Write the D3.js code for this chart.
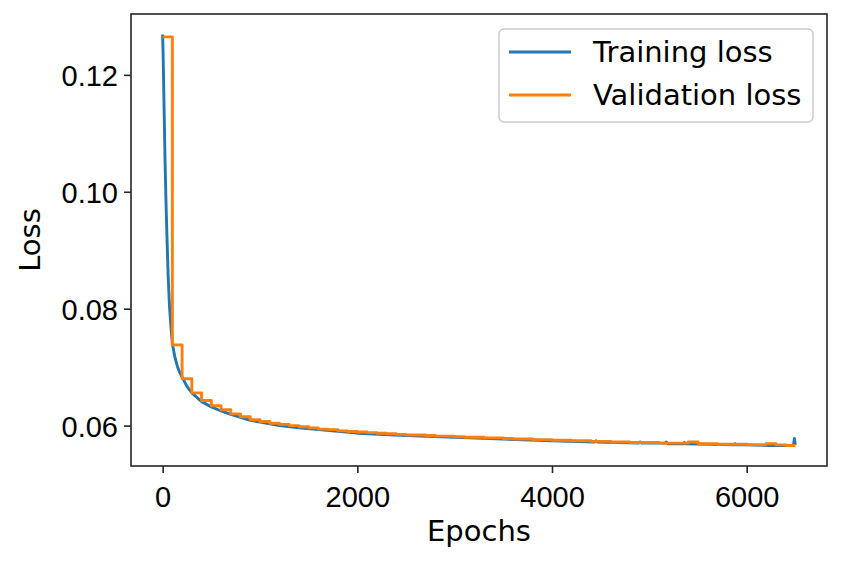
<!DOCTYPE html>
<meta charset="utf-8">
<style>
body { margin: 0; background: #fff; }
svg { font-family: "DejaVu Sans", sans-serif; }
.tick text { font-size: 29px; fill: #000; }
.tick line { stroke: #262626; stroke-width: 1.6; }
</style>
<body>
<svg width="843" height="561"></svg>
<script src="https://d3js.org/d3.v7.min.js"></script>
<script>

// training loss (dense at the start, small spikes near the end)
var trainEpochs = [0, 5, 10, 17, 25, 35, 45, 57, 70, 85, 100, 125, 150, 175, 200, 250, 300, 400, 500,
    600, 700, 800, 900, 1000, 1200, 1400, 1600, 1800, 2000, 2500, 3000, 3500, 4000,
    4440, 4453, 4466, 4890, 4905, 4920, 5160, 5175, 5190, 5350, 5360, 5370,
    5870, 5880, 5890, 6000, 6235, 6245, 6255, 6480, 6490, 6500];
var trainLoss = [0.1269, 0.1235, 0.1190, 0.1125, 0.1050, 0.0980, 0.0920, 0.0855, 0.0805, 0.0770, 0.0740,
    0.0718, 0.0702, 0.0691, 0.0683, 0.0667, 0.0656, 0.0641, 0.0632,
    0.0625, 0.0619, 0.0614, 0.0609, 0.0606, 0.0600, 0.0596, 0.0593, 0.0590, 0.0587, 0.0583, 0.0580, 0.0577, 0.0574,
    0.0572, 0.0574, 0.0572, 0.0570, 0.0572, 0.0570, 0.0570, 0.0572, 0.0569, 0.0569, 0.0571, 0.0569,
    0.0567, 0.0569, 0.0567, 0.0567, 0.0566, 0.0568, 0.0566, 0.0566, 0.0578, 0.0567];

// validation loss, evaluated every 100 epochs
var valEpochs = d3.range(0, 6501, 100);
var valLoss = [0.1265, 0.0738, 0.0680, 0.0656, 0.0643, 0.0634, 0.0627, 0.0620, 0.0615, 0.0610,
    0.0607, 0.0604, 0.0602, 0.0600, 0.0598, 0.0596, 0.0594, 0.0593, 0.0591, 0.0590,
    0.0589, 0.0588, 0.0587, 0.0586, 0.0585, 0.0584, 0.0584, 0.0583, 0.0582, 0.0582,
    0.0581, 0.0580, 0.0580, 0.0579, 0.0579, 0.0578, 0.0577, 0.0577, 0.0576, 0.0576,
    0.0575, 0.0575, 0.0574, 0.0574, 0.0573, 0.0573, 0.0572, 0.0572, 0.0571, 0.0571,
    0.0571, 0.0570, 0.0570, 0.0570, 0.0572, 0.0569, 0.0569, 0.0568, 0.0568, 0.0568,
    0.0567, 0.0567, 0.0569, 0.0567, 0.0566, 0.0566];

var xTicks = [0, 2000, 4000, 6000];
var yTicks = [0.06, 0.08, 0.10, 0.12];
var seriesNames = ["Training loss", "Validation loss"];
var colors = ["#1f77b4", "#ff7f0e"];

var svg = d3.select("svg");
var axLeft = 131, axRight = 827, axTop = 14, axBottom = 466;

// matplotlib style 5% margins
var xExt = [0, 6500], xPad = (xExt[1] - xExt[0]) * 0.05;
var allY = trainLoss.concat(valLoss);
var yExt = d3.extent(allY), yPad = (yExt[1] - yExt[0]) * 0.05;

var x = d3.scaleLinear().domain([xExt[0] - xPad, xExt[1] + xPad]).range([axLeft, axRight]);
var y = d3.scaleLinear().domain([yExt[0] - yPad, yExt[1] + yPad]).range([axBottom, axTop]);

svg.append("clipPath").attr("id", "clip")
    .append("rect").attr("x", axLeft).attr("y", axTop)
    .attr("width", axRight - axLeft).attr("height", axBottom - axTop);

var trainData = trainEpochs.map(function(e, i) { return [e, trainLoss[i]]; });
var valData = valEpochs.map(function(e, i) { return [e, valLoss[i]]; });

var line = d3.line().x(function(d) { return x(d[0]); }).y(function(d) { return y(d[1]); });
var stepLine = d3.line().curve(d3.curveStepAfter).x(function(d) { return x(d[0]); }).y(function(d) { return y(d[1]); });

var plot = svg.append("g").attr("clip-path", "url(#clip)");
plot.append("path").datum(trainData)
    .attr("fill", "none").attr("stroke", colors[0]).attr("stroke-width", 2.9)
    .attr("stroke-linejoin", "round").attr("d", line);
plot.append("path").datum(valData)
    .attr("fill", "none").attr("stroke", colors[1]).attr("stroke-width", 2.9)
    .attr("stroke-linejoin", "round").attr("d", stepLine);

// axes
var xAxis = svg.append("g").attr("transform", "translate(0," + axBottom + ")")
    .call(d3.axisBottom(x).tickValues(xTicks).tickSize(7).tickPadding(6).tickFormat(d3.format("d")));
var yAxis = svg.append("g").attr("transform", "translate(" + axLeft + ",0)")
    .call(d3.axisLeft(y).tickValues(yTicks).tickSize(7).tickPadding(6).tickFormat(d3.format(".2f")));
xAxis.select(".domain").remove();
yAxis.select(".domain").remove();
xAxis.selectAll(".tick text").attr("dy", "0.95em");
yAxis.selectAll(".tick text").attr("dy", "0.36em");

svg.append("rect").attr("x", axLeft).attr("y", axTop)
    .attr("width", axRight - axLeft).attr("height", axBottom - axTop)
    .attr("fill", "none").attr("stroke", "#262626").attr("stroke-width", 1.6);

svg.append("text").attr("x", (axLeft + axRight) / 2).attr("y", 541)
    .attr("text-anchor", "middle").attr("font-size", 29).text("Epochs");
svg.append("text").attr("transform", "translate(40," + ((axTop + axBottom) / 2) + ") rotate(-90)")
    .attr("text-anchor", "middle").attr("font-size", 29).text("Loss");

// legend
var lg = svg.append("g");
lg.append("rect").attr("x", 499).attr("y", 29).attr("width", 314).attr("height", 93)
    .attr("rx", 5).attr("fill", "#fff").attr("fill-opacity", 0.8)
    .attr("stroke", "#cccccc").attr("stroke-width", 1.5);
seriesNames.forEach(function(name, i) {
    var yy = 52 + i * 43;
    lg.append("line").attr("x1", 509).attr("x2", 571).attr("y1", yy).attr("y2", yy)
        .attr("stroke", colors[i]).attr("stroke-width", 2.9);
    lg.append("text").attr("x", 593).attr("y", yy).attr("dy", "0.36em")
        .attr("font-size", 29).text(name);
});

</script>
</body>
